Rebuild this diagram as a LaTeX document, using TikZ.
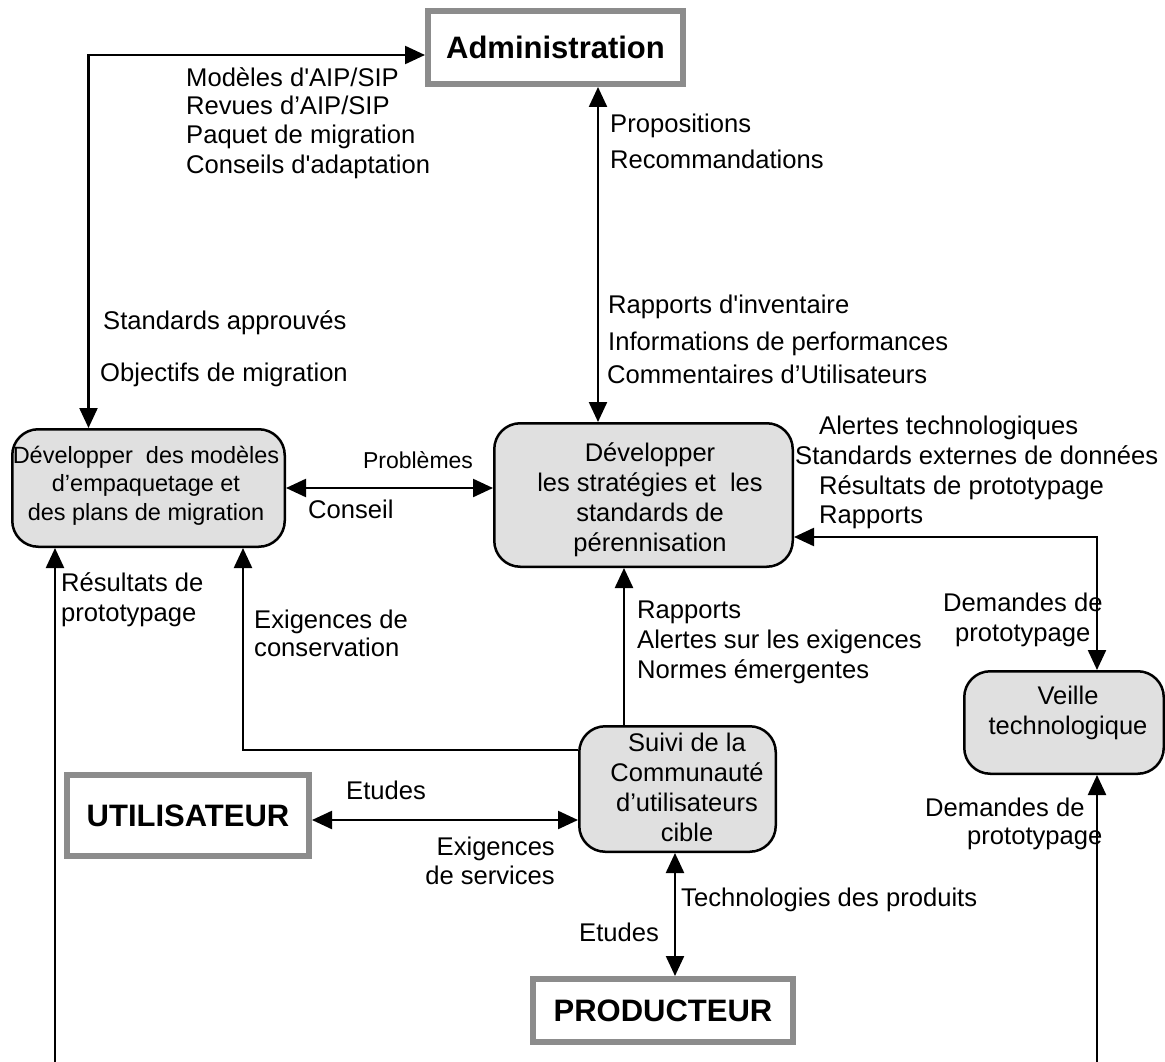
\documentclass[tikz,border=0pt]{standalone}
\usepackage{fontspec}
\setmainfont{Liberation Sans}[Ligatures=TeXOff]
\usetikzlibrary{arrows.meta}
\definecolor{boxgray}{HTML}{E0E0E0}
\definecolor{bordergray}{HTML}{8C8C8C}
\begin{document}
\begin{tikzpicture}[x=1pt,y=-1pt,
 lbl/.style={inner sep=0pt, text height=18.5pt, text depth=5.4pt, font=\fontsize{25.6}{30}\selectfont, anchor=west},
 ptxt/.style={inner sep=0pt, align=center, font=\fontsize{25.5}{30}\selectfont},
 proc/.style={draw, line width=2.5pt, fill=boxgray, rounded corners=26pt, inner sep=0pt},
 ext/.style={draw=bordergray, line width=6pt, fill=white, inner sep=0pt, font=\bfseries\fontsize{31}{36}\selectfont},
 conn/.style={line width=2.3pt, -{Triangle[length=20pt,width=18pt]}},
 dconn/.style={line width=2.3pt, {Triangle[length=20pt,width=18pt]}-{Triangle[length=20pt,width=18pt]}},
]
\useasboundingbox (0,0) rectangle (1165,1062);

% external entities
\node[ext, minimum width=255pt, minimum height=73pt] (admin) at (555.5,47.5) {Administration};
\node[ext, minimum width=242pt, minimum height=81pt] (util) at (188,815.5) {UTILISATEUR};
\node[ext, minimum width=260pt, minimum height=63pt] (prod) at (663,1010.5) {PRODUCTEUR};

% processes
\node[proc, minimum width=272.5pt, minimum height=117.5pt] (lb) at (148.5,488) {};
\node[proc, minimum width=298.5pt, minimum height=143.5pt] (mid) at (643.5,495) {};
\node[proc, minimum width=196.5pt, minimum height=125.5pt] (suivi) at (677.5,789) {};
\node[proc, minimum width=199.5pt, minimum height=102.5pt] (veille) at (1064,722.5) {};

\node[ptxt, font=\fontsize{23.5}{28.5}\selectfont] (lbT) at (146,485.5) {Développer~ des modèles\\d’empaquetage et\\des plans de migration};
\node[ptxt] (midT) at (650,500) {Développer\\les stratégies et~ les\\standards de\\pérennisation};
\node[ptxt] (suiviT) at (687,787) {Suivi de la\\Communauté\\d’utilisateurs\\cible};
\node[ptxt] (veilleT) at (1068,713) {Veille\\technologique};

% free ends
\coordinate (bl) at (55,1062);
\coordinate (br) at (1097,1062);

% connectors
\draw[dconn] ([xshift=-60pt]lb.north) |- ([yshift=-7.5pt]admin.west);
\draw[dconn] ([xshift=42.5pt]admin.south) -- ([xshift=42.5pt]admin.south |- mid.north);
\draw[dconn] (lb.east) -- (lb.east -| mid.west);
\draw[conn] ([yshift=39pt]suivi.west) -| ([xshift=94.5pt]lb.south);
\draw[conn] (bl) -- (bl |- lb.south);
\draw[conn] ([xshift=-53.5pt]suivi.north) -- ([xshift=-53.5pt]suivi.north |- mid.south);
\draw[dconn] ([yshift=-4.5pt]util.east) -- ([yshift=-4.5pt]util.east -| suivi.west);
\draw[dconn] ([xshift=-2.5pt]suivi.south) -- ([xshift=-2.5pt]suivi.south |- prod.north);
\draw[dconn] ([xshift=33pt]veille.north) |- ([yshift=-42pt]mid.east);
\draw[conn] (br) -- (br |- veille.south);

% labels
\node[lbl] (t1) at (186,80) {Modèles d'AIP/SIP};
\node[lbl] (t2) at (186,108) {Revues d’AIP/SIP};
\node[lbl] (t3) at (186,137) {Paquet de migration};
\node[lbl] (t4) at (186,167) {Conseils d'adaptation};
\node[lbl] (t5) at (610,126) {Propositions};
\node[lbl] (t6) at (610,162) {Recommandations};
\node[lbl] (t7) at (608,307) {Rapports d'inventaire};
\node[lbl] (t8) at (608,344) {Informations de performances};
\node[lbl] (t9) at (607,377) {Commentaires d’Utilisateurs};
\node[lbl] (t10) at (103,323) {Standards approuvés};
\node[lbl] (t11) at (100,375) {Objectifs de migration};
\node[lbl, font=\fontsize{23}{28}\selectfont, text height=16.6pt, text depth=4.8pt, anchor=center] (t12) at (418,463) {Problèmes};
\node[lbl] (t13) at (308,512) {Conseil};
\node[lbl] (t14) at (819,428) {Alertes technologiques};
\node[lbl] (t15) at (795,458) {Standards externes de données};
\node[lbl] (t16) at (819,488) {Résultats de prototypage};
\node[lbl] (t17) at (819,517) {Rapports};
\node[lbl] (t18) at (61,585) {Résultats de};
\node[lbl] (t19) at (61,615) {prototypage};
\node[lbl] (t20) at (254,622) {Exigences de};
\node[lbl] (t21) at (254,650) {conservation};
\node[lbl] (t22) at (637,612) {Rapports};
\node[lbl] (t23) at (637,642) {Alertes sur les exigences};
\node[lbl] (t24) at (637,672) {Normes émergentes};
\node[lbl] (t25) at (943,605) {Demandes de};
\node[lbl] (t26) at (955,635) {prototypage};
\node[lbl] (t27) at (925,810) {Demandes de};
\node[lbl] (t28) at (967,838) {prototypage};
\node[lbl] (t29) at (346,793) {Etudes};
\node[lbl, anchor=east] (t30) at (555,849) {Exigences};
\node[lbl, anchor=east] (t31) at (555,878) {de services};
\node[lbl] (t32) at (681,900) {Technologies des produits};
\node[lbl] (t33) at (579,935) {Etudes};
\end{tikzpicture}
\end{document}
